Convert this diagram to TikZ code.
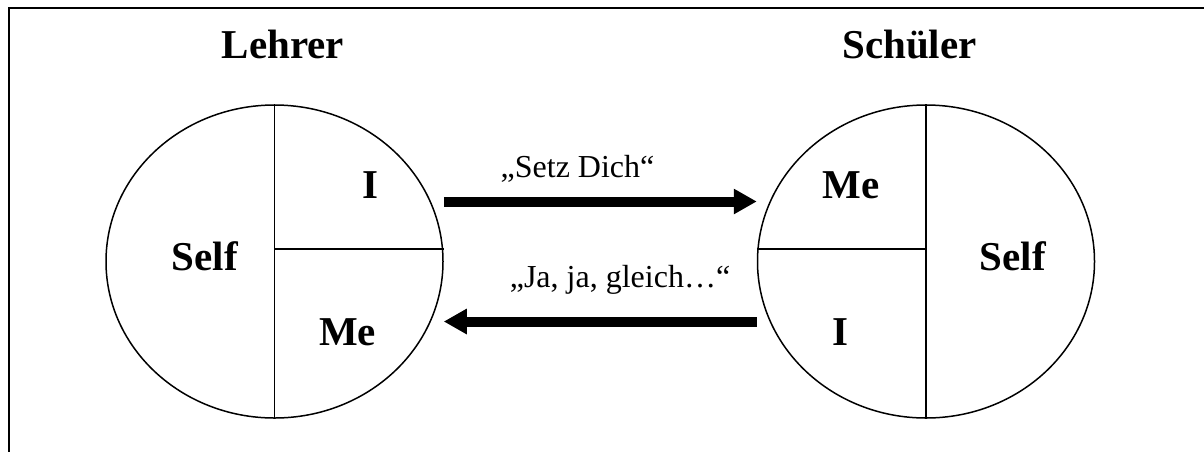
\documentclass[tikz,border=0pt]{standalone}
\usepackage{fontspec}
\setmainfont{Liberation Serif}
\usetikzlibrary{shapes.geometric,arrows.meta}

\begin{document}
\begin{tikzpicture}[x=0.5pt,y=-0.5pt,
        persona/.style={draw, ellipse, line width=0.75pt, minimum width=168.5pt, minimum height=156.5pt, inner sep=0pt},
        etiqueta/.style={font=\fontsize{20.5}{24}\selectfont\bfseries, anchor=base},
        mensaje/.style={font=\fontsize{16}{19}\selectfont, anchor=base},
        flecha/.style={line width=5pt, -{Triangle[length=11.5pt,width=12pt]}}]
        \useasboundingbox (0,0) rectangle (1204,452);
        % Marco (solo arriba y a la izquierda)
        \draw[line width=1.3pt] (1204,8) -- (9,8) -- (9,452);
        % Titulos
        \node[etiqueta] (tLehrer) at (283,58) {Lehrer};
        \node[etiqueta] (tSchueler) at (909.5,58) {Schüler};
        % Circulos de las dos personas
        \node[persona] (lehrer) at (274.5,261.5) {};
        \node[persona] (schueler) at (926,261.5) {};
        % Lineas que dividen los circulos
        \draw[line width=0.75pt] (lehrer.north) -- (lehrer.south);
        \draw[line width=0.75pt] ([yshift=6.25pt]lehrer.center) -- ([yshift=6.25pt]lehrer.east);
        \draw[line width=0.75pt] (schueler.north) -- (schueler.south);
        \draw[line width=0.75pt] ([yshift=6.25pt]schueler.west) -- ([yshift=6.25pt]schueler.center);
        % Partes del Lehrer
        \node[etiqueta] (lSelf) at (205,270) {Self};
        \node[etiqueta] (lI) at (370,198) {I};
        \node[etiqueta] (lMe) at (347.5,345) {Me};
        % Partes del Schueler
        \node[etiqueta] (sMe) at (851,198) {Me};
        \node[etiqueta] (sI) at (840.5,345) {I};
        \node[etiqueta] (sSelf) at (1013,270) {Self};
        % Mensajes
        \draw[flecha] ([yshift=30pt]lehrer.east) -- ([yshift=30pt]schueler.west);
        \node[mensaje] (mSetz) at (577.5,177) {„Setz Dich“};
        \draw[flecha] ([yshift=-30pt]schueler.west) -- ([yshift=-30pt]lehrer.east);
        \node[mensaje] (mJa) at (620,287) {„Ja, ja, gleich…“};
\end{tikzpicture}
\end{document}
